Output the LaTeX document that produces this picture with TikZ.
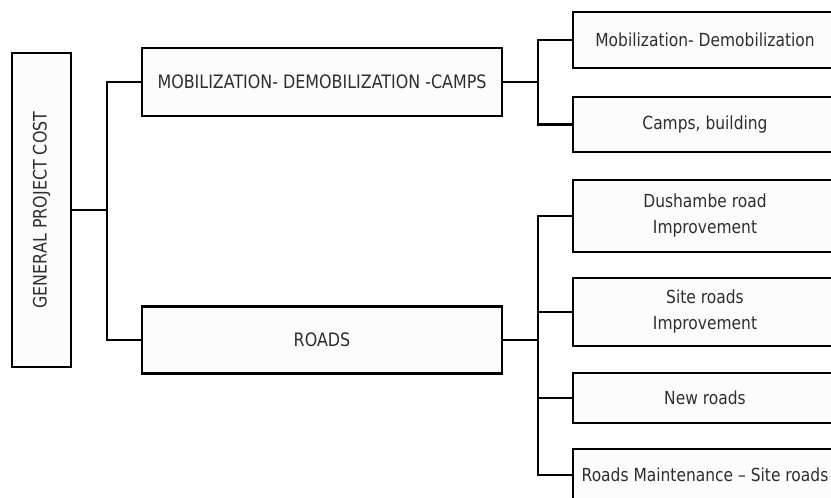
\documentclass[tikz,border=0pt]{standalone}
\usepackage{fontspec}
\setmainfont{DejaVu Sans}[FakeStretch=0.86]
\definecolor{boxfill}{HTML}{FCFCFC}
\definecolor{txtgray}{HTML}{2E2E2E}
\tikzset{
  wbs/.style={draw=black,line width=2.2pt,fill=boxfill,inner sep=0pt,text=txtgray,align=center,font=\fontsize{18}{26}\selectfont},
  link/.style={line width=2.2pt}
}
\begin{document}
\begin{tikzpicture}[x=1pt,y=-1pt]
\useasboundingbox (0,0) rectangle (831,498);
\clip (0,0) rectangle (831,498);
% top level
\node[wbs,minimum width=59pt,minimum height=314pt] (root) at (41.5,210) {};
\node[rotate=90,text=txtgray,font=\fontsize{18.5}{22}\selectfont] (roottxt) at (root.center) {GENERAL PROJECT COST};
% second level
\node[wbs,font=\fontsize{18.5}{22}\selectfont,minimum width=360pt,minimum height=68pt] (mob) at (322,82) {MOBILIZATION- DEMOBILIZATION -CAMPS};
\node[wbs,font=\fontsize{18.5}{22}\selectfont,minimum width=360pt,minimum height=67pt] (roads) at (322,340) {ROADS};
% third level
\foreach \n/\y/\h/\t in {mob1/40/56/{Mobilization- Demobilization},mob2/124.5/55/{Camps, building},
  rd1/216/72/{Dushambe road\\Improvement},rd2/312/68/{Site roads\\Improvement},
  rd3/398/50/{New roads},rd4/475/52/{Roads Maintenance -- Site roads}}
  \node[wbs,minimum width=264pt,minimum height=\h pt] (\n) at (705,\y) {\t};
% connectors
\draw[link] (root.east) -- ++(35,0) coordinate (trunk);
\draw[link] (mob.west) -| (trunk) |- (roads.west);
\draw[link] (mob.east) -- ++(35,0) coordinate (mbus);
\draw[link] (mob1.west) -| (mbus) |- (mob2.west);
\draw[link] (roads.east) -- ++(35,0) coordinate (rbus);
\foreach \n in {rd1,rd2,rd3,rd4} \draw[link] (rbus) |- (\n.west);
\end{tikzpicture}
\end{document}
